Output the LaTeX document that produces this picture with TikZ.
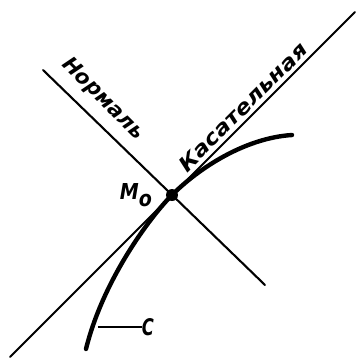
\documentclass[tikz,border=0pt]{standalone}
\usepackage{fontspec}
\newfontfamily\lbl{DejaVu Sans}
\begin{document}
\begin{tikzpicture}[x=1pt,y=-1pt,
  thinline/.style={line width=2.1pt,line cap=round},
  curveline/.style={line width=4.4pt,line cap=round},
  txt/.style={inner sep=0pt,font=\lbl\bfseries\itshape}]
\useasboundingbox (0,0) rectangle (357,360);
\coordinate (t1) at (10,357);
\coordinate (t2) at (355,12);
\coordinate (n1) at (43,70);
\coordinate (n2) at (265,285);
\node[circle,fill,inner sep=0pt,minimum size=12pt] (m0) at (172,195) {};
\draw[thinline] (t1) -- (t2);
\draw[thinline] (n1) -- (n2);
\coordinate (cs) at (86,349);
\coordinate (ce) at (292,135);
\draw[curveline] (cs) .. controls (103,280) and (150,217) .. (m0.center)
  .. controls (199,168) and (245,138) .. (ce);
\node[txt] (cl) at (148,327) {\resizebox{12pt}{17pt}{C}};
\coordinate (cf) at (98,327);
\draw[line width=1.6pt] (cf) -- (cl.west);
\node[txt] (ml) at (136,195) {\resizebox{32pt}{16pt}{M\raisebox{-0.55ex}{o}}};
\node[txt,rotate=45] (tl) at (243,107) {\resizebox{172pt}{15pt}{Касательная}};
\node[txt,rotate=-45] (nl) at (103,99) {\resizebox{106pt}{!}{Нормаль}};
\end{tikzpicture}
\end{document}
